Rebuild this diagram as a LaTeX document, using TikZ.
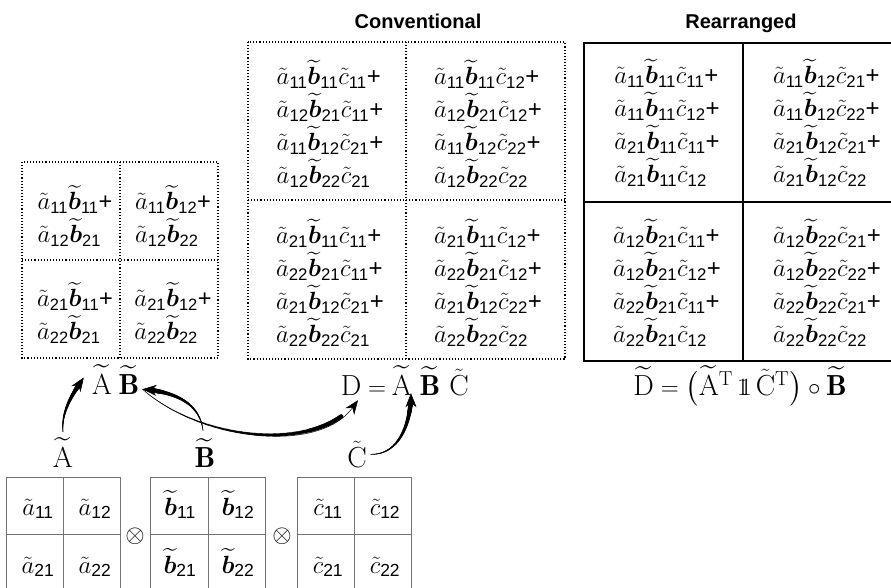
\documentclass[tikz,border=0pt]{standalone}
\usepackage{amsmath,amssymb,bm}
\usepackage{fontspec}
\setsansfont{Liberation Sans}
\usetikzlibrary{arrows.meta,decorations.markings,calc}
\newcommand{\Ma}[1]{\tilde{a}_{\textsf{#1}}}
\newcommand{\Mb}[1]{\widetilde{\bm{b}}_{\textsf{#1}}}
\newcommand{\Mc}[1]{\tilde{c}_{\textsf{#1}}}
\newcommand{\Mp}{\textsf{+}}
\newcommand{\Done}{1\!\!1}
\newcommand{\tightlines}{\lineskiplimit-40pt\relax}
\tikzset{
  dotbox/.style={dotted, line width=1.1pt},
  rearbox/.style={line width=2.6pt},
  grid/.style={draw=black!55, line width=0.9pt},
  cell/.style={font=\fontsize{24}{33}\selectfont\tightlines, align=left, inner sep=0pt},
  lcell/.style={font=\fontsize{23.5}{33}\selectfont\tightlines, align=left, inner sep=0pt},
  smallcell/.style={font=\fontsize{25}{26}\selectfont, inner sep=0pt, anchor=base},
  lbl/.style={font=\fontsize{29}{30}\selectfont, inner sep=0pt, anchor=base},
  title/.style={font=\fontsize{20}{22}\selectfont\sffamily\bfseries, inner sep=0pt, anchor=base},
  otimesnode/.style={font=\fontsize{32}{32}\selectfont, inner sep=0pt},
  taper/.style={line width=0.5pt, -{Stealth[length=14pt,width=11pt]},
    postaction={decorate, decoration={markings,
      mark=between positions 0 and 0.9 step 0.005 with {%
        \pgfmathsetmacro{\myr}{0.25+2.1*\pgfkeysvalueof{/pgf/decoration/mark info/sequence number}/181}%
        \fill (0,0) circle (\myr pt);}}}}
}
\begin{document}
\begin{tikzpicture}[x=1pt,y=-1pt]
\clip (0,0) rectangle (891,588);
% titles
\node[title] (tconv) at (418,29) {Conventional};
\node[title] (trear) at (741,29) {Rearranged};
% left dotted box
\draw[dotbox] (22,162) rectangle (218,358);
\draw[dotbox] (120,162) -- (120,358);
\draw[dotbox] (22,260) -- (218,260);
\node[lcell] (l11) at (75,216) {$\Ma{11}\Mb{11}$\Mp\\$\Ma{12}\Mb{21}$};
\node[lcell] (l12) at (173,216) {$\Ma{11}\Mb{12}$\Mp\\$\Ma{12}\Mb{22}$};
\node[lcell] (l21) at (75,313) {$\Ma{21}\Mb{11}$\Mp\\$\Ma{22}\Mb{21}$};
\node[lcell] (l22) at (173,313) {$\Ma{21}\Mb{12}$\Mp\\$\Ma{22}\Mb{22}$};
% conventional
\draw[dotbox] (248,42) rectangle (565,359);
\draw[dotbox] (406,42) -- (406,359);
\draw[dotbox] (248,200) -- (565,200);
\node[cell] (c11) at (330,124) {$\Ma{11}\Mb{11}\Mc{11}$\Mp\\$\Ma{12}\Mb{21}\Mc{11}$\Mp\\$\Ma{11}\Mb{12}\Mc{21}$\Mp\\$\Ma{12}\Mb{22}\Mc{21}$};
\node[cell] (c12) at (488,124) {$\Ma{11}\Mb{11}\Mc{12}$\Mp\\$\Ma{12}\Mb{21}\Mc{12}$\Mp\\$\Ma{11}\Mb{12}\Mc{22}$\Mp\\$\Ma{12}\Mb{22}\Mc{22}$};
\node[cell] (c21) at (330,283) {$\Ma{21}\Mb{11}\Mc{11}$\Mp\\$\Ma{22}\Mb{21}\Mc{11}$\Mp\\$\Ma{21}\Mb{12}\Mc{21}$\Mp\\$\Ma{22}\Mb{22}\Mc{21}$};
\node[cell] (c22) at (488,283) {$\Ma{21}\Mb{11}\Mc{12}$\Mp\\$\Ma{22}\Mb{21}\Mc{12}$\Mp\\$\Ma{21}\Mb{12}\Mc{22}$\Mp\\$\Ma{22}\Mb{22}\Mc{22}$};
% rearranged
\draw[rearbox] (584,43) rectangle (905,361);
\draw[rearbox] (743,43) -- (743,361);
\draw[rearbox] (584,202) -- (905,202);
\node[cell] (r11) at (667,123) {$\Ma{11}\Mb{11}\Mc{11}$\Mp\\$\Ma{11}\Mb{11}\Mc{12}$\Mp\\$\Ma{21}\Mb{11}\Mc{11}$\Mp\\$\Ma{21}\Mb{11}\Mc{12}$};
\node[cell] (r12) at (827,123) {$\Ma{11}\Mb{12}\Mc{21}$\Mp\\$\Ma{11}\Mb{12}\Mc{22}$\Mp\\$\Ma{21}\Mb{12}\Mc{21}$\Mp\\$\Ma{21}\Mb{12}\Mc{22}$};
\node[cell] (r21) at (667,283) {$\Ma{12}\Mb{21}\Mc{11}$\Mp\\$\Ma{12}\Mb{21}\Mc{12}$\Mp\\$\Ma{22}\Mb{21}\Mc{11}$\Mp\\$\Ma{22}\Mb{21}\Mc{12}$};
\node[cell] (r22) at (827,283) {$\Ma{12}\Mb{22}\Mc{21}$\Mp\\$\Ma{12}\Mb{22}\Mc{22}$\Mp\\$\Ma{22}\Mb{22}\Mc{21}$\Mp\\$\Ma{22}\Mb{22}\Mc{22}$};
% product labels
\node[lbl] (pA) at (102,394) {$\widetilde{\mathrm{A}}$};
\node[lbl] (pB) at (129,394) {$\widetilde{\mathbf{B}}$};
\node[lbl] (eqD) at (351,395) {$\mathrm{D}$};
\node[lbl] (eqE) at (377,395) {$=$};
\node[lbl] (eqA) at (402,395) {$\widetilde{\mathrm{A}}$};
\node[lbl] (eqB) at (430,395) {$\widetilde{\mathbf{B}}$};
\node[lbl] (eqC) at (459,395) {$\tilde{\mathrm{C}}$};
\node[lbl] (deq) at (740,395) {$\widetilde{\mathrm{D}}=\bigl(\widetilde{\mathrm{A}}^{\mathrm{T}}\,\Done\,\tilde{\mathrm{C}}^{\mathrm{T}}\bigr)\circ\widetilde{\mathbf{B}}$};
% bottom labels
\node[lbl] (bA) at (63,467) {$\widetilde{\mathrm{A}}$};
\node[lbl] (bB) at (205,467) {$\widetilde{\mathbf{B}}$};
\node[lbl] (bC) at (357,467) {$\tilde{\mathrm{C}}$};
% bottom grids
\draw[grid] (6,477) rectangle (120,600);
\draw[grid] (63,477) -- (63,600);
\draw[grid] (6,534) -- (120,534);
\draw[grid] (150,477) rectangle (265,600);
\draw[grid] (208,477) -- (208,600);
\draw[grid] (150,534) -- (265,534);
\draw[grid] (297,477) rectangle (411,600);
\draw[grid] (354,477) -- (354,600);
\draw[grid] (297,534) -- (411,534);
\node[smallcell] (ga11) at (38,515) {$\Ma{11}$};
\node[smallcell] (ga12) at (95,515) {$\Ma{12}$};
\node[smallcell] (ga21) at (38,573) {$\Ma{21}$};
\node[smallcell] (ga22) at (95,573) {$\Ma{22}$};
\node[smallcell] (gb11) at (180,515) {$\Mb{11}$};
\node[smallcell] (gb12) at (238,515) {$\Mb{12}$};
\node[smallcell] (gb21) at (180,573) {$\Mb{21}$};
\node[smallcell] (gb22) at (238,573) {$\Mb{22}$};
\node[smallcell] (gc11) at (328,515) {$\Mc{11}$};
\node[smallcell] (gc12) at (385,515) {$\Mc{12}$};
\node[smallcell] (gc21) at (328,573) {$\Mc{21}$};
\node[smallcell] (gc22) at (385,573) {$\Mc{22}$};
\node[otimesnode] (o1) at (135,536) {$\otimes$};
\node[otimesnode] (o2) at (282,536) {$\otimes$};
% arrows
\coordinate (sA) at ($(bA.north)+(0,-6)$);
\coordinate (sB) at ($(bB.north)+(-2,-8)$);
\coordinate (sC) at ($(bC.east)+(4,0)$);
\coordinate (tA) at ($(pA.west)+(-8,-2)$);
\coordinate (tB) at ($(pB.south east)+(3,-5)$);
\coordinate (tD) at ($(eqD.south)+(7,5)$);
\coordinate (tAA) at ($(eqA.south)+(9,-2)$);
\draw[taper] (sA) .. controls (61,410) and (74,392) .. (tA);
\draw[taper] (sB) .. controls (200,405) and (178,392) .. (tB);
\draw[taper] (tB) .. controls (200,440) and (318,455) .. (tD);
\draw[taper] (sC) .. controls (398,455) and (411,425) .. (tAA);
\end{tikzpicture}
\end{document}
